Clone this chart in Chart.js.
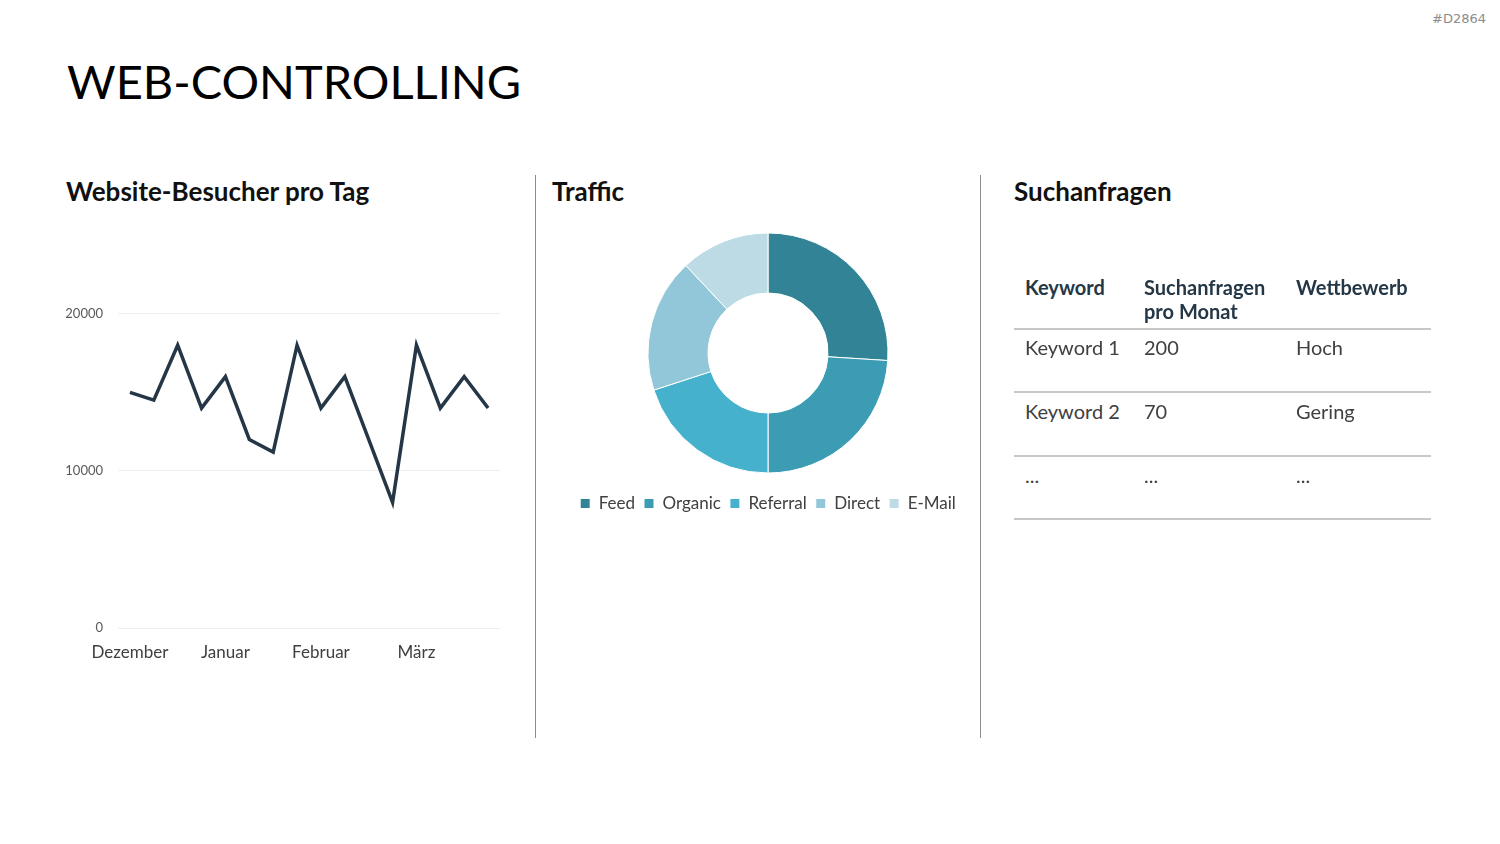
<!DOCTYPE html>
<html lang="de">
<head>
<meta charset="utf-8">
<script src="https://cdn.jsdelivr.net/npm/chart.js@4.4.1/dist/chart.umd.min.js"></script>
<style>
  html, body { margin:0; padding:0; background:#fff; }
  body { width:1500px; height:844px; position:relative; overflow:hidden; font-family: Lato, "Open Sans", sans-serif; }
  .abs { position:absolute; }
  #code { right:14px; top:11px; font-size:13px; color:#8c8c8c; font-family:"DejaVu Sans", sans-serif; }
  #title { left:67px; top:53px; font-size:47px; color:#000; font-weight:400; white-space:nowrap; }
  .h2 { top:175px; font-size:26px; font-weight:700; color:#111; white-space:nowrap; }
  .vline { top:175px; width:1px; height:563px; background:#8c8c8c; }
  #lineWrap { left:40px; top:291px; width:470px; height:382px; }
  #donutWrap { left:518px; top:220px; width:500px; height:302px; }
  .cell { position:absolute; font-size:20px; color:#404040; white-space:nowrap; }
  .hd { font-weight:700; color:#243746; line-height:24px; }
  .hr { position:absolute; left:1014px; width:417px; height:2px; background:#c8c8c8; }
</style>
</head>
<body>
<div id="code" class="abs">#D2864</div>
<div id="title" class="abs">WEB-CONTROLLING</div>

<div class="abs h2" style="left:66px;">Website-Besucher pro Tag</div>
<div class="abs h2" style="left:552px;">Traffic</div>
<div class="abs h2" style="left:1014px;">Suchanfragen</div>

<div class="abs vline" style="left:535px;"></div>
<div class="abs vline" style="left:980px;"></div>

<div id="lineWrap" class="abs"><canvas id="lineChart"></canvas></div>
<div id="donutWrap" class="abs"><canvas id="donutChart"></canvas></div>

<div id="table"></div>

<script>
// ---- Data ----
const dayLabels = ['Dezember','','','','Januar','','','','Februar','','','','März','','',''];
const visitors = [15000,14500,18000,14000,16000,12000,11200,18000,14000,16000,12000,8000,18000,14000,16000,14000];
const yTicks = [0, 10000, 20000];

const trafficLabels = ['Feed','Organic','Referral','Direct','E-Mail'];
const trafficValues = [26, 24, 20, 18, 12];
const trafficColors = ['#328395','#3C9CB4','#46B1CC','#91C7D8','#BCDBE5'];

const tableHeader = ['Keyword', 'Suchanfragen<br>pro Monat', 'Wettbewerb'];
const tableKeywords = ['Keyword 1','Keyword 2','...'];
const tableSearches = ['200','70','...'];
const tableCompetition = ['Hoch','Gering','...'];

// ---- Table ----
(function(){
  const t = document.getElementById('table');
  const colX = [1025, 1144, 1296];
  let html = '';
  tableHeader.forEach((h,i)=>{ html += `<div class="cell hd" style="left:${colX[i]}px;top:275px;">${h}</div>`; });
  const rowTops = [335, 399, 463];
  const lineTops = [328, 391, 455, 518];
  lineTops.forEach(y=>{ html += `<div class="hr" style="top:${y}px;"></div>`; });
  tableKeywords.forEach((k,r)=>{
    const vals = [k, tableSearches[r], tableCompetition[r]];
    vals.forEach((v,i)=>{ html += `<div class="cell" style="left:${colX[i]}px;top:${rowTops[r]}px;">${v}</div>`; });
  });
  t.innerHTML = html;
})();

// ---- Line chart ----
new Chart(document.getElementById('lineChart'), {
  type: 'line',
  data: {
    labels: dayLabels,
    datasets: [{
      data: visitors,
      borderColor: '#253746',
      borderWidth: 3.5,
      pointRadius: 0,
      tension: 0,
      fill: false
    }]
  },
  options: {
    responsive: true,
    maintainAspectRatio: false,
    animation: false,
    layout: { padding: { top: 10, right: 10, left: 0, bottom: 0 } },
    plugins: { legend: { display: false }, tooltip: { enabled: false } },
    scales: {
      x: {
        offset: true,
        grid: { display: false, drawTicks: false },
        border: { display: false },
        ticks: { autoSkip: false, maxRotation: 0, padding: 14, color: '#404040', font: { family: 'Lato', size: 17 } },
        afterFit: s => { s.height = 45; }
      },
      y: {
        min: 0, max: 20000,
        afterBuildTicks: s => { s.ticks = yTicks.map(v => ({ value: v })); },
        grid: { color: '#eeeeee', drawTicks: false, lineWidth: 1 },
        border: { display: false },
        ticks: { padding: 15, color: '#595959', font: { family: 'Lato', size: 13 }, callback: v => String(v) },
        afterFit: s => { s.width = 78; }
      }
    }
  }
});

// ---- Donut chart ----
new Chart(document.getElementById('donutChart'), {
  type: 'doughnut',
  data: {
    labels: trafficLabels,
    datasets: [{
      data: trafficValues,
      backgroundColor: trafficColors,
      borderColor: '#ffffff',
      borderWidth: 1,
      radius: 120,
      cutout: '50%'
    }]
  },
  options: {
    responsive: true,
    maintainAspectRatio: false,
    animation: false,
    plugins: {
      tooltip: { enabled: false },
      legend: {
        position: 'bottom',
        labels: { boxWidth: 10, boxHeight: 10, padding: 9, color: '#404040', font: { family: 'Lato', size: 17 } }
      }
    }
  }
});
</script>
</body>
</html>
